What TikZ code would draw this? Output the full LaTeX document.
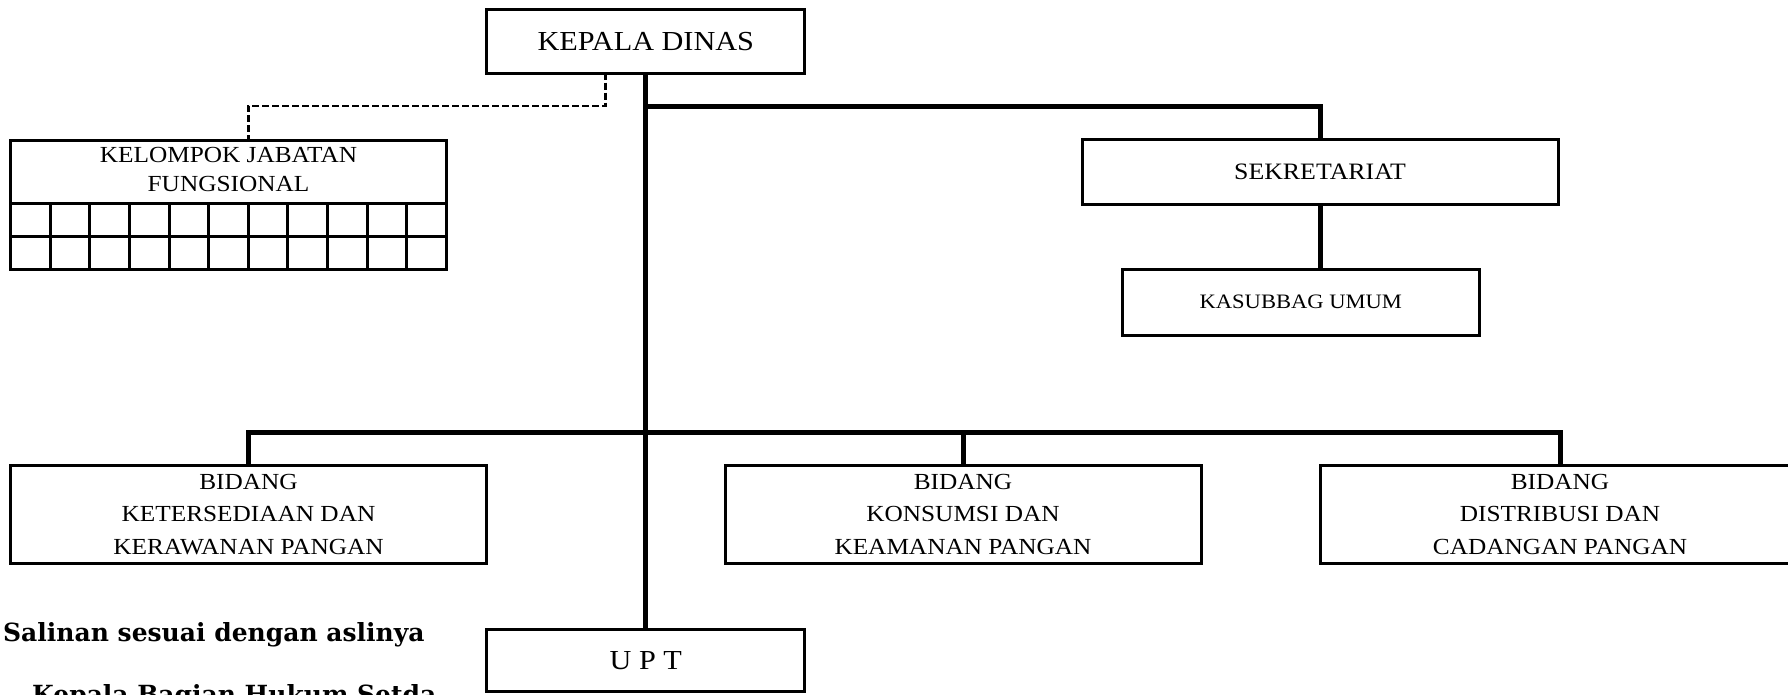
\documentclass[tikz,border=0pt]{standalone}
\usepackage{fontspec}
\setmainfont{Liberation Serif}[FakeStretch=1.1]
\newfontfamily\notefont{DejaVu Serif}
\begin{document}
\begin{tikzpicture}[x=1pt,y=-1pt,
  box/.style={draw,line width=3pt,inner sep=0pt,align=center},
  conn/.style={line width=5pt},
  dashline/.style={line width=2.7pt,dash pattern=on 7pt off 3pt},
  gridline/.style={line width=3pt},
  midfont/.style={font=\fontsize{23}{32.5}\selectfont},
  bigfont/.style={font=\fontsize{27.5}{33}\selectfont},
  notestyle/.style={anchor=base west,inner sep=0pt,font=\notefont\bfseries\fontsize{25}{28}\selectfont}]
\useasboundingbox (0,0) rectangle (1788,694);
\clip (0,0) rectangle (1788,694);
% boxes
\node[box,bigfont,minimum width=318pt,minimum height=63.7pt] (kepala) at (645.8,41.2) {KEPALA DINAS};
\node[box,minimum width=436pt,minimum height=129.3pt] (kjf) at (228.5,204.7) {};
\node[midfont,align=center,inner sep=0pt] (kjftext) at (228.5,169.5) {KELOMPOK JABATAN\\[-4pt]FUNGSIONAL};
\node[box,font=\fontsize{23.5}{28}\selectfont,minimum width=476pt,minimum height=64.7pt] (sek) at (1320,171.7) {SEKRETARIAT};
\node[box,font=\fontsize{20.5}{25}\selectfont,minimum width=356.5pt,minimum height=65.7pt] (kasub) at (1300.8,302.2) {KASUBBAG UMUM};
\node[box,midfont,minimum width=476.5pt,minimum height=98.3pt] (bid1) at (248.5,514.2) {BIDANG\\KETERSEDIAAN DAN\\KERAWANAN PANGAN};
\node[box,midfont,minimum width=476pt,minimum height=98.3pt] (bid2) at (963,514.2) {BIDANG\\KONSUMSI DAN\\KEAMANAN PANGAN};
\node[box,midfont,minimum width=480pt,minimum height=98.3pt] (bid3) at (1560,514.2) {BIDANG\\DISTRIBUSI DAN\\CADANGAN PANGAN};
\node[box,bigfont,minimum width=318pt,minimum height=61.7pt] (upt) at (645.8,660.8) {U P T};
% grid of the functional group box
\draw[gridline] (10.5,203.3) -- (446.5,203.3) (10.5,236.7) -- (446.5,236.7);
\foreach \i in {1,...,10} \draw[gridline] ({10.5+39.64*\i},203.3) -- ({10.5+39.64*\i},269.3);
% connectors
\coordinate (tj) at (645.8,106);
\coordinate (bj) at (645.8,432.7);
\draw[conn] (kepala.south) -- (upt.north);
\draw[conn] (tj) -| (sek.north);
\draw[conn] (sek.south) -- (sek.south |- kasub.north);
\draw[conn] (bid1.north) |- (bj) -| (bid3.north);
\draw[conn] (bid2.north) -- (bid2.north |- bj);
\coordinate (dtop) at (605.7,72.5);
\coordinate (dbot) at (248.3,140);
\draw[dashline] (dtop) -- ++(0,33.5) -| (dbot);
% note text
\node[notestyle] (salinan) at (3,641.7) {Salinan sesuai dengan aslinya};
\node[notestyle] (kabag) at (32,703.5) {Kepala Bagian Hukum Setda};
\end{tikzpicture}
\end{document}
